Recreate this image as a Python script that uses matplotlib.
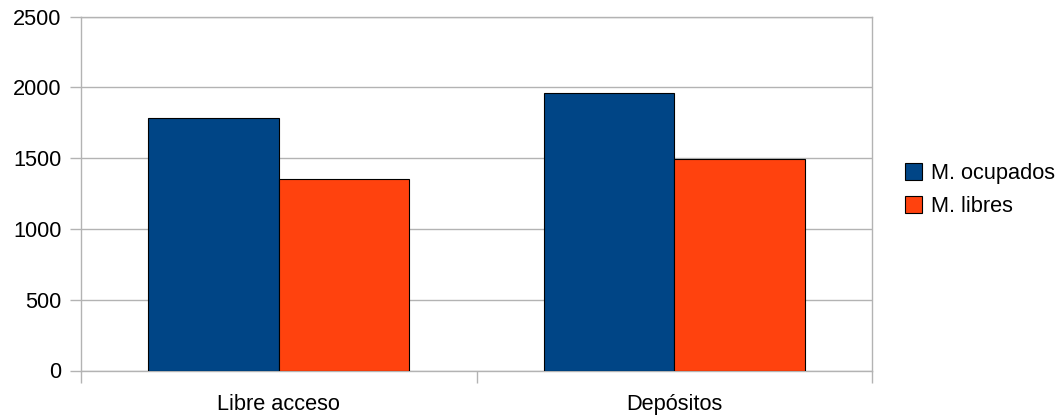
import numpy as np
import matplotlib.pyplot as plt

# datos
categorias = ['Libre acceso', 'Depósitos']
ocupados = [1783, 1960]
libres = [1352, 1494]
series = ['M. ocupados', 'M. libres']
colores = ['#004586', '#ff420e']
gris = '#b3b3b3'

plt.rcParams['font.family'] = ['Liberation Sans', 'DejaVu Sans']
fs = 15.7

fig = plt.figure(figsize=(10.56, 4.16), dpi=100)
ax = fig.add_axes([81/1056, 1 - 370.5/416, (872 - 81)/1056, (370.5 - 16.7)/416])

x = np.arange(len(categorias))
w = 0.33
ax.bar(x - w/2, ocupados, w, color=colores[0], edgecolor='black', linewidth=0.8,
       label=series[0], zorder=3)
ax.bar(x + w/2, libres, w, color=colores[1], edgecolor='black', linewidth=0.8,
       label=series[1], zorder=3)

ax.set_xlim(-0.5, len(categorias) - 0.5)
ax.set_ylim(0, 2500)
ax.set_yticks(np.arange(0, 2501, 500))
ax.set_xticks(x)
ax.set_xticklabels(categorias)
ax.set_xticks(np.arange(-0.5, len(categorias), 1), minor=True)

ax.yaxis.grid(True, color=gris, linewidth=1, zorder=0)
for s in ax.spines.values():
    s.set_color(gris)
    s.set_linewidth(1)

ax.tick_params(axis='y', which='major', length=8, width=1, color=gris, pad=6, labelsize=fs)
ax.tick_params(axis='x', which='major', length=0, pad=17, labelsize=fs)
ax.tick_params(axis='x', which='minor', length=8.5, width=1, color=gris)

ax.legend(loc='center left', bbox_to_anchor=((905 - 81) / 791, 0.51), frameon=False,
          fontsize=fs, borderpad=0, borderaxespad=0,
          handlelength=0.8, handleheight=0.8, handletextpad=0.38, labelspacing=0.58)

fig.savefig('out.png', dpi=100)
